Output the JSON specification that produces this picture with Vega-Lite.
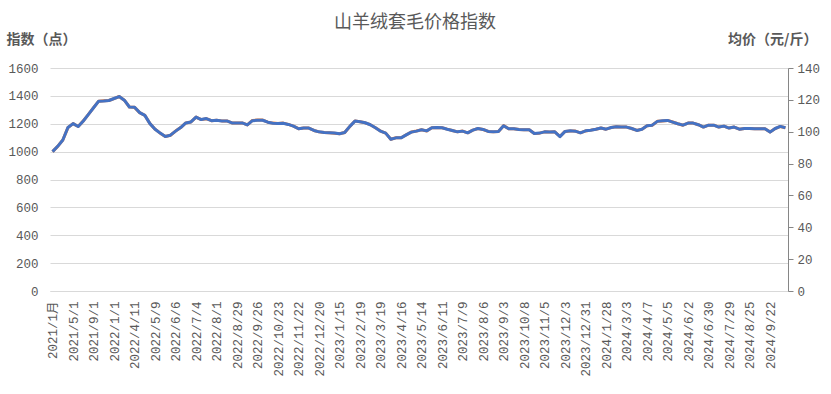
{
  "$schema": "https://vega.github.io/schema/vega-lite/v6.json",
  "width": 738,
  "height": 223,
  "autosize": {"type": "none"},
  "padding": {"left": 50, "top": 68, "right": 43, "bottom": 103},
  "background": "white",
  "title": {
    "text": "山羊绒套毛价格指数",
    "font": "Noto Sans CJK SC",
    "fontSize": 18,
    "fontWeight": "normal",
    "color": "#595959",
    "anchor": "middle",
    "frame": "group",
    "dx": -4,
    "offset": 0
  },
  "data": {
    "values": [
      {"d": "2021/1月", "i": 1000, "p": 87.5},
      {"d": "2021/2/1", "i": 1038, "p": 90.8},
      {"d": "2021/3/1", "i": 1083, "p": 94.8},
      {"d": "2021/4/1", "i": 1173, "p": 102.6},
      {"d": "2021/5/1", "i": 1201, "p": 105.1},
      {"d": "2021/6/1", "i": 1180, "p": 103.3},
      {"d": "2021/7/1", "i": 1220, "p": 106.8},
      {"d": "2021/8/1", "i": 1267, "p": 110.9},
      {"d": "2021/9/1", "i": 1315, "p": 115.1},
      {"d": "2021/10/1", "i": 1362, "p": 119.2},
      {"d": "2021/11/1", "i": 1364, "p": 119.4},
      {"d": "2021/12/1", "i": 1367, "p": 119.6},
      {"d": "2022/1/1", "i": 1381, "p": 120.8},
      {"d": "2022/2/1", "i": 1395, "p": 122.1},
      {"d": "2022/3/1", "i": 1369, "p": 119.8},
      {"d": "2022/4/4", "i": 1320, "p": 115.5},
      {"d": "2022/4/11", "i": 1318, "p": 115.3},
      {"d": "2022/4/18", "i": 1280, "p": 112.0},
      {"d": "2022/4/25", "i": 1260, "p": 110.3},
      {"d": "2022/5/2", "i": 1201, "p": 105.1},
      {"d": "2022/5/9", "i": 1161, "p": 101.6},
      {"d": "2022/5/16", "i": 1133, "p": 99.1},
      {"d": "2022/5/23", "i": 1109, "p": 97.0},
      {"d": "2022/5/30", "i": 1118, "p": 97.8},
      {"d": "2022/6/6", "i": 1147, "p": 100.4},
      {"d": "2022/6/13", "i": 1173, "p": 102.6},
      {"d": "2022/6/20", "i": 1206, "p": 105.5},
      {"d": "2022/6/27", "i": 1213, "p": 106.1},
      {"d": "2022/7/4", "i": 1248, "p": 109.2},
      {"d": "2022/7/11", "i": 1230, "p": 107.6},
      {"d": "2022/7/18", "i": 1237, "p": 108.2},
      {"d": "2022/7/25", "i": 1222, "p": 106.9},
      {"d": "2022/8/1", "i": 1225, "p": 107.2},
      {"d": "2022/8/8", "i": 1220, "p": 106.8},
      {"d": "2022/8/15", "i": 1220, "p": 106.8},
      {"d": "2022/8/22", "i": 1206, "p": 105.5},
      {"d": "2022/8/29", "i": 1206, "p": 105.5},
      {"d": "2022/9/5", "i": 1206, "p": 105.5},
      {"d": "2022/9/12", "i": 1192, "p": 104.3},
      {"d": "2022/9/19", "i": 1222, "p": 107.1},
      {"d": "2022/9/26", "i": 1225, "p": 107.3},
      {"d": "2022/10/2", "i": 1225, "p": 107.3},
      {"d": "2022/10/9", "i": 1211, "p": 106.0},
      {"d": "2022/10/16", "i": 1204, "p": 105.4},
      {"d": "2022/10/23", "i": 1201, "p": 105.1},
      {"d": "2022/10/30", "i": 1204, "p": 105.4},
      {"d": "2022/11/6", "i": 1195, "p": 104.6},
      {"d": "2022/11/15", "i": 1183, "p": 103.5},
      {"d": "2022/11/22", "i": 1164, "p": 101.9},
      {"d": "2022/11/29", "i": 1169, "p": 102.3},
      {"d": "2022/12/6", "i": 1169, "p": 102.3},
      {"d": "2022/12/13", "i": 1152, "p": 100.8},
      {"d": "2022/12/20", "i": 1142, "p": 99.9},
      {"d": "2022/12/27", "i": 1137, "p": 99.5},
      {"d": "2023/1/1", "i": 1135, "p": 99.3},
      {"d": "2023/1/8", "i": 1133, "p": 99.1},
      {"d": "2023/1/15", "i": 1128, "p": 98.7},
      {"d": "2023/1/29", "i": 1137, "p": 99.5},
      {"d": "2023/2/5", "i": 1181, "p": 103.3},
      {"d": "2023/2/12", "i": 1219, "p": 106.7},
      {"d": "2023/2/19", "i": 1214, "p": 106.2},
      {"d": "2023/2/26", "i": 1207, "p": 105.6},
      {"d": "2023/3/5", "i": 1193, "p": 104.4},
      {"d": "2023/3/12", "i": 1171, "p": 102.5},
      {"d": "2023/3/19", "i": 1147, "p": 100.4},
      {"d": "2023/3/26", "i": 1133, "p": 99.1},
      {"d": "2023/4/2", "i": 1089, "p": 95.3},
      {"d": "2023/4/9", "i": 1099, "p": 96.2},
      {"d": "2023/4/16", "i": 1099, "p": 96.2},
      {"d": "2023/4/23", "i": 1120, "p": 98.0},
      {"d": "2023/4/30", "i": 1140, "p": 99.8},
      {"d": "2023/5/7", "i": 1147, "p": 100.4},
      {"d": "2023/5/14", "i": 1157, "p": 101.2},
      {"d": "2023/5/21", "i": 1149, "p": 100.5},
      {"d": "2023/5/28", "i": 1171, "p": 102.5},
      {"d": "2023/6/4", "i": 1173, "p": 102.6},
      {"d": "2023/6/11", "i": 1171, "p": 102.5},
      {"d": "2023/6/18", "i": 1161, "p": 101.6},
      {"d": "2023/6/25", "i": 1152, "p": 100.8},
      {"d": "2023/7/2", "i": 1142, "p": 99.9},
      {"d": "2023/7/9", "i": 1147, "p": 100.4},
      {"d": "2023/7/16", "i": 1135, "p": 99.3},
      {"d": "2023/7/23", "i": 1154, "p": 101.0},
      {"d": "2023/7/30", "i": 1166, "p": 102.0},
      {"d": "2023/8/6", "i": 1159, "p": 101.4},
      {"d": "2023/8/13", "i": 1145, "p": 100.2},
      {"d": "2023/8/20", "i": 1142, "p": 99.9},
      {"d": "2023/8/27", "i": 1145, "p": 100.2},
      {"d": "2023/9/3", "i": 1186, "p": 103.8},
      {"d": "2023/9/10", "i": 1164, "p": 101.9},
      {"d": "2023/9/17", "i": 1164, "p": 101.9},
      {"d": "2023/9/24", "i": 1159, "p": 101.4},
      {"d": "2023/10/8", "i": 1157, "p": 101.2},
      {"d": "2023/10/15", "i": 1157, "p": 101.2},
      {"d": "2023/10/22", "i": 1130, "p": 98.9},
      {"d": "2023/10/29", "i": 1133, "p": 99.1},
      {"d": "2023/11/5", "i": 1142, "p": 99.9},
      {"d": "2023/11/12", "i": 1140, "p": 99.8},
      {"d": "2023/11/19", "i": 1142, "p": 99.9},
      {"d": "2023/11/26", "i": 1108, "p": 97.0},
      {"d": "2023/12/3", "i": 1145, "p": 100.2},
      {"d": "2023/12/10", "i": 1149, "p": 100.5},
      {"d": "2023/12/17", "i": 1147, "p": 100.4},
      {"d": "2023/12/24", "i": 1135, "p": 99.3},
      {"d": "2023/12/31", "i": 1149, "p": 100.5},
      {"d": "2024/1/7", "i": 1154, "p": 101.0},
      {"d": "2024/1/14", "i": 1161, "p": 101.6},
      {"d": "2024/1/21", "i": 1169, "p": 102.3},
      {"d": "2024/1/28", "i": 1161, "p": 101.6},
      {"d": "2024/2/4", "i": 1173, "p": 102.6},
      {"d": "2024/2/18", "i": 1178, "p": 103.1},
      {"d": "2024/2/25", "i": 1176, "p": 102.9},
      {"d": "2024/3/3", "i": 1176, "p": 102.9},
      {"d": "2024/3/10", "i": 1166, "p": 102.0},
      {"d": "2024/3/17", "i": 1152, "p": 100.8},
      {"d": "2024/3/31", "i": 1161, "p": 101.6},
      {"d": "2024/4/7", "i": 1186, "p": 103.8},
      {"d": "2024/4/14", "i": 1190, "p": 104.1},
      {"d": "2024/4/21", "i": 1217, "p": 106.5},
      {"d": "2024/4/28", "i": 1221, "p": 106.8},
      {"d": "2024/5/5", "i": 1224, "p": 107.1},
      {"d": "2024/5/12", "i": 1212, "p": 106.1},
      {"d": "2024/5/19", "i": 1200, "p": 105.0},
      {"d": "2024/5/26", "i": 1190, "p": 104.1},
      {"d": "2024/6/2", "i": 1205, "p": 105.4},
      {"d": "2024/6/9", "i": 1205, "p": 105.4},
      {"d": "2024/6/16", "i": 1193, "p": 104.4},
      {"d": "2024/6/23", "i": 1176, "p": 102.9},
      {"d": "2024/6/30", "i": 1190, "p": 104.1},
      {"d": "2024/7/7", "i": 1190, "p": 104.1},
      {"d": "2024/7/14", "i": 1176, "p": 102.9},
      {"d": "2024/7/21", "i": 1183, "p": 103.5},
      {"d": "2024/7/29", "i": 1169, "p": 102.3},
      {"d": "2024/8/4", "i": 1176, "p": 102.9},
      {"d": "2024/8/11", "i": 1161, "p": 101.6},
      {"d": "2024/8/18", "i": 1166, "p": 102.0},
      {"d": "2024/8/25", "i": 1166, "p": 102.0},
      {"d": "2024/9/1", "i": 1164, "p": 101.9},
      {"d": "2024/9/8", "i": 1164, "p": 101.9},
      {"d": "2024/9/15", "i": 1164, "p": 101.9},
      {"d": "2024/9/22", "i": 1140, "p": 99.8},
      {"d": "2024/9/29", "i": 1166, "p": 102.0},
      {"d": "2024/10/6", "i": 1181, "p": 103.3},
      {"d": "2024/10/13", "i": 1171, "p": 102.5}
    ]
  },
  "encoding": {
    "x": {
      "field": "d",
      "type": "ordinal",
      "sort": null,
      "scale": {"type": "point", "padding": 0.5},
      "axis": {
        "title": null,
        "values": ["2021/1月", "2021/5/1", "2021/9/1", "2022/1/1", "2022/4/11", "2022/5/9", "2022/6/6", "2022/7/4", "2022/8/1", "2022/8/29", "2022/9/26", "2022/10/23", "2022/11/22", "2022/12/20", "2023/1/15", "2023/2/19", "2023/3/19", "2023/4/16", "2023/5/14", "2023/6/11", "2023/7/9", "2023/8/6", "2023/9/3", "2023/10/8", "2023/11/5", "2023/12/3", "2023/12/31", "2024/1/28", "2024/3/3", "2024/4/7", "2024/5/5", "2024/6/2", "2024/6/30", "2024/7/29", "2024/8/25", "2024/9/22"],
        "labelAngle": 270,
        "labelAlign": "right",
        "labelBaseline": "middle",
        "labelPadding": 10,
        "labelOverlap": false,
        "labelFont": "Liberation Mono, Noto Sans CJK SC",
        "labelFontSize": 12.5,
        "labelColor": "#595959",
        "ticks": false,
        "domain": true,
        "domainColor": "#D9D9D9",
        "grid": false
      }
    }
  },
  "layer": [
    {
      "mark": {"type": "line", "color": "#ED7D31", "strokeWidth": 3, "strokeJoin": "round"},
      "encoding": {
        "y": {
          "field": "p",
          "type": "quantitative",
          "scale": {"domain": [0, 140], "nice": false, "zero": true},
          "axis": {
            "orient": "right",
            "values": [0, 20, 40, 60, 80, 100, 120, 140],
            "format": "d",
            "grid": false,
            "domain": true,
            "domainColor": "#868686",
            "ticks": true,
            "tickColor": "#868686",
            "tickSize": 5,
            "labelPadding": 4,
            "labelFont": "Liberation Mono",
            "labelFontSize": 12.5,
            "labelColor": "#595959",
            "title": "均价（元/斤）",
            "titleFont": "Noto Sans CJK SC",
            "titleFontSize": 14,
            "titleFontWeight": "bold",
            "titleColor": "#595959",
            "titleAngle": 0,
            "titleAlign": "right",
            "titleBaseline": "middle",
            "titleX": 29,
            "titleY": -29
          }
        }
      }
    },
    {
      "mark": {"type": "line", "color": "#4472C4", "strokeWidth": 3, "strokeJoin": "round"},
      "encoding": {
        "y": {
          "field": "i",
          "type": "quantitative",
          "scale": {"domain": [0, 1600], "nice": false, "zero": true},
          "axis": {
            "orient": "left",
            "values": [0, 200, 400, 600, 800, 1000, 1200, 1400, 1600],
            "format": "d",
            "grid": true,
            "gridColor": "#D9D9D9",
            "domain": false,
            "ticks": false,
            "labelPadding": 12,
            "labelFont": "Liberation Mono",
            "labelFontSize": 12.5,
            "labelColor": "#595959",
            "title": "指数（点）",
            "titleFont": "Noto Sans CJK SC",
            "titleFontSize": 14,
            "titleFontWeight": "bold",
            "titleColor": "#595959",
            "titleAngle": 0,
            "titleAlign": "left",
            "titleBaseline": "middle",
            "titleX": -44,
            "titleY": -29
          }
        }
      }
    }
  ],
  "resolve": {"scale": {"y": "independent"}},
  "config": {"view": {"stroke": null}}
}
